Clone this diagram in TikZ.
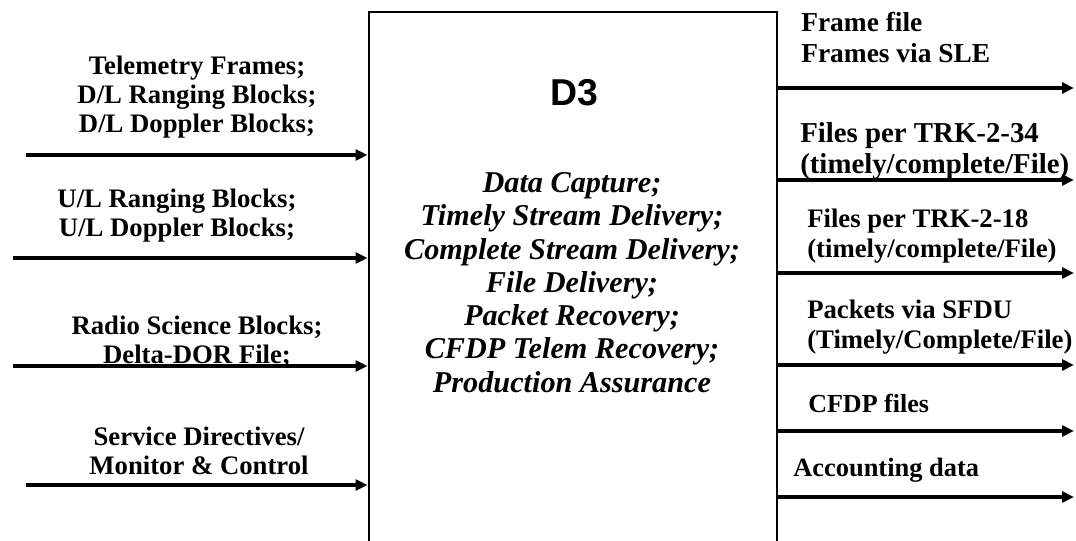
\documentclass[tikz,border=0pt]{standalone}
\usepackage{fontspec}
\setmainfont{Liberation Serif}
\newfontfamily\headfont{Liberation Sans}
\usetikzlibrary{arrows.meta,positioning,calc}

\begin{document}
\begin{tikzpicture}[x=0.025cm,y=0.025cm,>={Triangle[length=0.3cm,width=0.27cm]},
  flow/.style={->,line width=2.4pt},
  inlbl/.style={align=center,inner sep=0pt,font=\bfseries\fontsize{19}{20.6}\selectfont},
  outlbl/.style={align=left,anchor=west,inner sep=0pt,font=\bfseries\fontsize{19}{21.8}\selectfont}]
\useasboundingbox (0,0) rectangle (1076,540);
\clip (0,0) rectangle (1076,540);
\node[draw,line width=2pt,minimum width=10.2cm,minimum height=13.7cm,inner sep=0pt] (d3) at (573,254) {};
\node[font=\headfont\bfseries\fontsize{26.6}{30}\selectfont] (d3name) at (574,447) {D3};
\node[align=center,inner sep=0pt,font=\bfseries\itshape\fontsize{21.5}{23.7}\selectfont] (tasks) at (572,257.5)
  {Data Capture;\\Timely Stream Delivery;\\Complete Stream Delivery;\\File Delivery;\\Packet Recovery;\\CFDP Telem Recovery;\\Production Assurance};
% inputs
\coordinate (in1) at (26,385);
\coordinate (in2) at (13,282);
\coordinate (in3) at (13,174);
\coordinate (in4) at (26,55);
\node[inlbl] (tlm) at (197,443) {Telemetry Frames;\\D/L Ranging Blocks;\\D/L Doppler Blocks;};
\node[inlbl] (ul) at (177,324) {U/L Ranging Blocks;\\U/L Doppler Blocks;};
\node[inlbl] (rs) at (197,198.5) {Radio Science Blocks;\\Delta-DOR File;};
\node[inlbl] (sd) at (199,89) {Service Directives/\\Monitor \& Control};
\foreach \i in {1,...,4} {\draw[flow] (in\i) -- (in\i -| d3.west);}
% outputs
\coordinate (out1) at (1074,452);
\coordinate (out2) at (1074,360);
\coordinate (out3) at (1074,267);
\coordinate (out4) at (1074,175);
\coordinate (out5) at (1074,109);
\coordinate (out6) at (1074,43);
\node[outlbl,font=\bfseries\fontsize{19.5}{22.5}\selectfont] (frm) at (801,502.5) {Frame file\\Frames via SLE};
\node[outlbl,font=\bfseries\fontsize{20.5}{21.8}\selectfont] (trk34) at (800,389) {Files per TRK-2-34\\(timely/complete/File)};
\node[outlbl] (trk18) at (807,304) {Files per TRK-2-18\\(timely/complete/File)};
\node[outlbl] (pkt) at (807,213) {Packets via SFDU\\(Timely/Complete/File)};
\node[outlbl,font=\bfseries\fontsize{18.5}{21}\selectfont] (cfdp) at (808,137) {CFDP files};
\node[outlbl,font=\bfseries\fontsize{18.8}{21}\selectfont] (acct) at (793,70) {Accounting data};
\foreach \i in {1,...,6} {\draw[flow] (d3.east |- out\i) -- (out\i);}
\end{tikzpicture}
\end{document}
